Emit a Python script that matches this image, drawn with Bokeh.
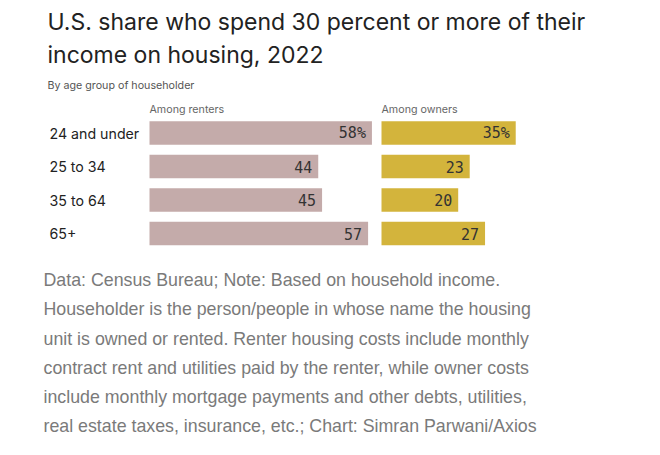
from bokeh.plotting import figure
from bokeh.models import Range1d, Label, ColumnDataSource
from bokeh.core.properties import value
from bokeh.embed import file_html
from bokeh.resources import INLINE

# ---- data ----
age_groups = ["24 and under", "25 to 34", "35 to 64", "65+"]
renters = [58, 44, 45, 57]
owners = [35, 23, 20, 27]
renter_labels = ["58%", "44", "45", "57"]
owner_labels = ["35%", "23", "20", "27"]

title_lines = ["U.S. share who spend 30 percent or more of their",
               "income on housing, 2022"]
subtitle = "By age group of householder"
note_lines = [
    "Data: Census Bureau; Note: Based on household income.",
    "Householder is the person/people in whose name the housing",
    "unit is owned or rented. Renter housing costs include monthly",
    "contract rent and utilities paid by the renter, while owner costs",
    "include monthly mortgage payments and other debts, utilities,",
    "real estate taxes, insurance, etc.; Chart: Simran Parwani/Axios",
]

# ---- layout ----
W, H = 644, 439
OFF = 1             # observed page offset of the canvas
SX = 3.835          # px per percentage point
SY = 33.5           # px per row
X0 = -(150 - OFF) / SX      # data x at left edge of canvas
Y0 = -(133.5 - OFF) / SY    # data y at top edge of canvas
OWNER_OFFSET = (382 - 150) / SX


def dx(px):  # page px -> data x
    return X0 + (px - OFF) / SX


def dy(py):  # page px -> data y
    return Y0 + (py - OFF) / SY


p = figure(width=W, height=H, output_backend="svg", toolbar_location=None,
           x_range=Range1d(X0, X0 + W / SX),
           y_range=Range1d(Y0 + H / SY, Y0),
           x_axis_location=None, y_axis_location=None,
           min_border=0, min_border_left=0, min_border_right=0,
           min_border_top=0, min_border_bottom=0)
p.grid.visible = False
p.outline_line_color = None
p.background_fill_color = "white"
p.border_fill_color = "white"

rows = list(range(len(age_groups)))
src = ColumnDataSource(dict(
    y=rows, cat=age_groups,
    r=renters, o=owners,
    o_left=[OWNER_OFFSET] * len(owners),
    o_right=[OWNER_OFFSET + v for v in owners],
    r_text=renter_labels, o_text=owner_labels,
    r_tx=[v - 6 / SX for v in renters],
    o_tx=[OWNER_OFFSET + v - 6 / SX for v in owners],
    lab_x=[dx(50)] * len(age_groups),
))

BAR_H = 23.5 / SY
p.hbar(y="y", left=0, right="r", height=BAR_H, source=src,
       fill_color="#c4abaa", line_color=None)
p.hbar(y="y", left="o_left", right="o_right", height=BAR_H, source=src,
       fill_color="#d3b43c", line_color=None)

p.text(x="r_tx", y="y", text="r_text", source=src, text_align="right",
       text_baseline="middle", text_font=value("DejaVu Sans Mono"),
       text_font_size="15px", text_color="#333333")
p.text(x="o_tx", y="y", text="o_text", source=src, text_align="right",
       text_baseline="middle", text_font=value("DejaVu Sans Mono"),
       text_font_size="15px", text_color="#333333")
p.text(x="lab_x", y="y", text="cat", source=src, text_align="left",
       text_baseline="middle", text_font=value("Inter"),
       text_font_size="14.2px", text_color="#222222")

# titles (vertical centres of each line)
for line, mid in zip(title_lines, [22.5, 55]):
    p.add_layout(Label(x=dx(48), y=dy(mid), text=line, text_font="Inter",
                       text_font_size="23px", text_color="#222222",
                       text_baseline="middle"))
p.add_layout(Label(x=dx(48), y=dy(85.5), text=subtitle, text_font="Inter",
                   text_font_size="10.7px", text_color="#555555",
                   text_baseline="middle"))
p.add_layout(Label(x=0, y=dy(109.5), text="Among renters", text_font="Inter",
                   text_font_size="10.7px", text_color="#666666",
                   text_baseline="middle"))
p.add_layout(Label(x=OWNER_OFFSET, y=dy(109.5), text="Among owners",
                   text_font="Inter", text_font_size="10.7px",
                   text_color="#666666", text_baseline="middle"))

note_mids = [280, 309.5, 339, 368, 397, 426]
for line, mid in zip(note_lines, note_mids):
    p.add_layout(Label(x=dx(44), y=dy(mid), text=line,
                       text_font="Liberation Sans", text_font_size="17.8px",
                       text_color="#7a7a7a", text_baseline="middle"))

open("out.html", "w").write(file_html(p, INLINE))
